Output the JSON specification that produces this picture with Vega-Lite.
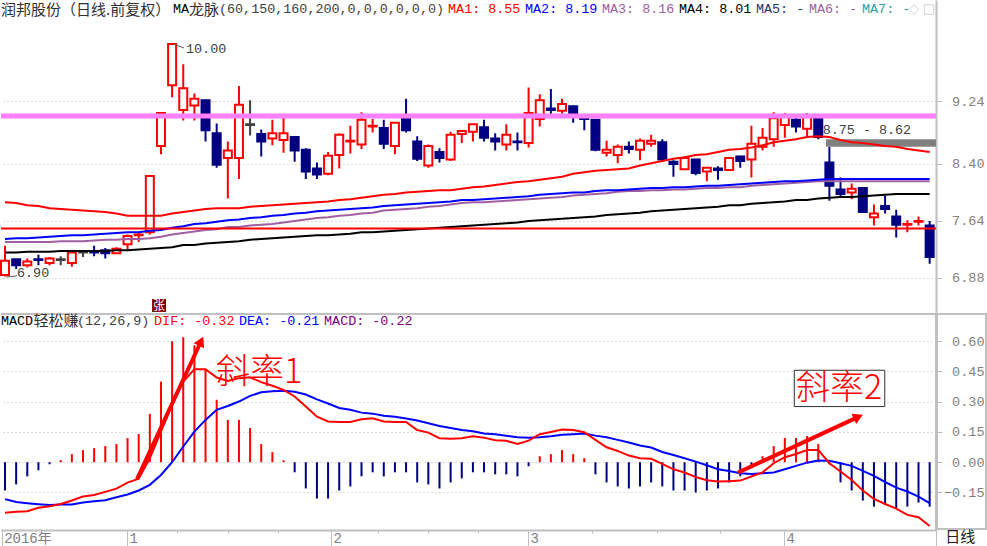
{
"$schema":"https://vega.github.io/schema/vega-lite/v6.json",
"padding":0,"spacing":0,"background":"#ffffff",
"config":{"view":{"stroke":null},"concat":{"spacing":0},"text":{"baseline":"middle","align":"left"}},
"datasets":{"days":[
{"i":0,"open":6.92,"close":7.11,"high":7.31,"low":6.90,"dir":"u","ma1":7.89,"ma2":7.40,"ma3":7.36,"ma4":7.22,"dif":-0.250,"dea":-0.183,"macd":-0.14},
{"i":1,"open":7.13,"close":7.05,"high":7.13,"low":7.00,"dir":"d","ma1":7.88,"ma2":7.41,"ma3":7.36,"ma4":7.22,"dif":-0.246,"dea":-0.197,"macd":-0.11},
{"i":2,"open":7.05,"close":7.10,"high":7.14,"low":7.02,"dir":"u","ma1":7.85,"ma2":7.41,"ma3":7.36,"ma4":7.23,"dif":-0.243,"dea":-0.203,"macd":-0.07},
{"i":3,"open":7.13,"close":7.12,"high":7.19,"low":7.05,"dir":"d","ma1":7.84,"ma2":7.42,"ma3":7.36,"ma4":7.23,"dif":-0.226,"dea":-0.208,"macd":-0.04},
{"i":4,"open":7.08,"close":7.14,"high":7.16,"low":7.05,"dir":"u","ma1":7.81,"ma2":7.43,"ma3":7.36,"ma4":7.23,"dif":-0.218,"dea":-0.212,"macd":-0.01},
{"i":5,"open":7.13,"close":7.12,"high":7.17,"low":7.05,"dir":"f","ma1":7.80,"ma2":7.44,"ma3":7.37,"ma4":7.24,"dif":-0.207,"dea":-0.210,"macd":0.01},
{"i":6,"open":7.08,"close":7.22,"high":7.22,"low":7.03,"dir":"u","ma1":7.79,"ma2":7.45,"ma3":7.37,"ma4":7.24,"dif":-0.190,"dea":-0.210,"macd":0.04},
{"i":7,"open":7.23,"close":7.22,"high":7.25,"low":7.16,"dir":"f","ma1":7.78,"ma2":7.45,"ma3":7.37,"ma4":7.24,"dif":-0.170,"dea":-0.200,"macd":0.06},
{"i":8,"open":7.23,"close":7.22,"high":7.31,"low":7.17,"dir":"d","ma1":7.77,"ma2":7.46,"ma3":7.38,"ma4":7.24,"dif":-0.162,"dea":-0.193,"macd":0.07},
{"i":9,"open":7.25,"close":7.21,"high":7.28,"low":7.14,"dir":"d","ma1":7.76,"ma2":7.47,"ma3":7.39,"ma4":7.24,"dif":-0.147,"dea":-0.188,"macd":0.08},
{"i":10,"open":7.21,"close":7.27,"high":7.29,"low":7.20,"dir":"u","ma1":7.74,"ma2":7.48,"ma3":7.39,"ma4":7.25,"dif":-0.131,"dea":-0.174,"macd":0.09},
{"i":11,"open":7.33,"close":7.44,"high":7.46,"low":7.26,"dir":"u","ma1":7.71,"ma2":7.49,"ma3":7.40,"ma4":7.25,"dif":-0.101,"dea":-0.160,"macd":0.12},
{"i":12,"open":7.45,"close":7.46,"high":7.48,"low":7.36,"dir":"u","ma1":7.71,"ma2":7.49,"ma3":7.40,"ma4":7.26,"dif":-0.081,"dea":-0.140,"macd":0.14},
{"i":13,"open":7.49,"close":8.24,"high":8.25,"low":7.46,"dir":"u","ma1":7.71,"ma2":7.51,"ma3":7.41,"ma4":7.27,"dif":0.020,"dea":-0.112,"macd":0.24},
{"i":14,"open":8.64,"close":9.08,"high":9.09,"low":8.53,"dir":"u","ma1":7.71,"ma2":7.52,"ma3":7.43,"ma4":7.28,"dif":0.152,"dea":-0.063,"macd":0.40},
{"i":15,"open":9.45,"close":10.00,"high":10.00,"low":9.29,"dir":"u","ma1":7.74,"ma2":7.55,"ma3":7.46,"ma4":7.29,"dif":0.284,"dea":0,"macd":0.60},
{"i":16,"open":9.12,"close":9.41,"high":9.73,"low":8.98,"dir":"u","ma1":7.76,"ma2":7.57,"ma3":7.48,"ma4":7.32,"dif":0.400,"dea":0.078,"macd":0.62},
{"i":17,"open":9.18,"close":9.27,"high":9.34,"low":8.98,"dir":"u","ma1":7.78,"ma2":7.60,"ma3":7.50,"ma4":7.32,"dif":0.461,"dea":0.152,"macd":0.58},
{"i":18,"open":9.25,"close":8.85,"high":9.26,"low":8.70,"dir":"d","ma1":7.80,"ma2":7.61,"ma3":7.52,"ma4":7.34,"dif":0.461,"dea":0.210,"macd":0.46},
{"i":19,"open":8.81,"close":8.39,"high":8.94,"low":8.35,"dir":"d","ma1":7.81,"ma2":7.63,"ma3":7.53,"ma4":7.35,"dif":0.420,"dea":0.260,"macd":0.31},
{"i":20,"open":8.48,"close":8.58,"high":8.70,"low":7.94,"dir":"u","ma1":7.81,"ma2":7.65,"ma3":7.56,"ma4":7.36,"dif":0.403,"dea":0.279,"macd":0.21},
{"i":21,"open":8.48,"close":9.19,"high":9.44,"low":8.20,"dir":"u","ma1":7.81,"ma2":7.66,"ma3":7.56,"ma4":7.37,"dif":0.417,"dea":0.301,"macd":0.21},
{"i":22,"open":8.93,"close":8.92,"high":9.25,"low":8.78,"dir":"f","ma1":7.83,"ma2":7.68,"ma3":7.58,"ma4":7.39,"dif":0.421,"dea":0.329,"macd":0.17},
{"i":23,"open":8.80,"close":8.70,"high":8.86,"low":8.50,"dir":"d","ma1":7.84,"ma2":7.69,"ma3":7.59,"ma4":7.40,"dif":0.397,"dea":0.347,"macd":0.09},
{"i":24,"open":8.74,"close":8.81,"high":8.99,"low":8.65,"dir":"u","ma1":7.85,"ma2":7.71,"ma3":7.60,"ma4":7.41,"dif":0.379,"dea":0.352,"macd":0.05},
{"i":25,"open":8.72,"close":8.81,"high":9.05,"low":8.55,"dir":"u","ma1":7.86,"ma2":7.72,"ma3":7.62,"ma4":7.42,"dif":0.359,"dea":0.354,"macd":0.01},
{"i":26,"open":8.76,"close":8.58,"high":8.76,"low":8.43,"dir":"d","ma1":7.87,"ma2":7.74,"ma3":7.64,"ma4":7.43,"dif":0.326,"dea":0.349,"macd":-0.05},
{"i":27,"open":8.59,"close":8.30,"high":8.61,"low":8.20,"dir":"d","ma1":7.88,"ma2":7.75,"ma3":7.66,"ma4":7.44,"dif":0.276,"dea":0.336,"macd":-0.13},
{"i":28,"open":8.34,"close":8.26,"high":8.42,"low":8.20,"dir":"d","ma1":7.89,"ma2":7.77,"ma3":7.68,"ma4":7.45,"dif":0.226,"dea":0.312,"macd":-0.18},
{"i":29,"open":8.27,"close":8.51,"high":8.56,"low":8.25,"dir":"u","ma1":7.90,"ma2":7.78,"ma3":7.69,"ma4":7.45,"dif":0.202,"dea":0.291,"macd":-0.18},
{"i":30,"open":8.52,"close":8.79,"high":8.81,"low":8.34,"dir":"u","ma1":7.92,"ma2":7.79,"ma3":7.71,"ma4":7.46,"dif":0.200,"dea":0.269,"macd":-0.14},
{"i":31,"open":8.70,"close":8.71,"high":8.91,"low":8.54,"dir":"u","ma1":7.93,"ma2":7.80,"ma3":7.72,"ma4":7.47,"dif":0.200,"dea":0.260,"macd":-0.12},
{"i":32,"open":8.66,"close":8.99,"high":9.09,"low":8.60,"dir":"u","ma1":7.95,"ma2":7.81,"ma3":7.74,"ma4":7.49,"dif":0.213,"dea":0.246,"macd":-0.07},
{"i":33,"open":8.90,"close":8.91,"high":9.00,"low":8.82,"dir":"u","ma1":7.97,"ma2":7.82,"ma3":7.75,"ma4":7.49,"dif":0.218,"dea":0.241,"macd":-0.05},
{"i":34,"open":8.88,"close":8.67,"high":8.99,"low":8.60,"dir":"d","ma1":7.99,"ma2":7.84,"ma3":7.78,"ma4":7.50,"dif":0.202,"dea":0.231,"macd":-0.07},
{"i":35,"open":8.64,"close":8.95,"high":8.95,"low":8.53,"dir":"u","ma1":8.00,"ma2":7.85,"ma3":7.79,"ma4":7.51,"dif":0.200,"dea":0.226,"macd":-0.05},
{"i":36,"open":9.02,"close":8.85,"high":9.27,"low":8.82,"dir":"d","ma1":8.02,"ma2":7.86,"ma3":7.80,"ma4":7.52,"dif":0.200,"dea":0.217,"macd":-0.05},
{"i":37,"open":8.70,"close":8.47,"high":8.77,"low":8.44,"dir":"d","ma1":8.03,"ma2":7.87,"ma3":7.81,"ma4":7.53,"dif":0.160,"dea":0.207,"macd":-0.10},
{"i":38,"open":8.38,"close":8.64,"high":8.66,"low":8.35,"dir":"u","ma1":8.04,"ma2":7.88,"ma3":7.83,"ma4":7.54,"dif":0.147,"dea":0.193,"macd":-0.11},
{"i":39,"open":8.56,"close":8.48,"high":8.61,"low":8.42,"dir":"d","ma1":8.05,"ma2":7.89,"ma3":7.84,"ma4":7.55,"dif":0.119,"dea":0.180,"macd":-0.13},
{"i":40,"open":8.46,"close":8.79,"high":8.83,"low":8.44,"dir":"u","ma1":8.05,"ma2":7.90,"ma3":7.86,"ma4":7.56,"dif":0.117,"dea":0.170,"macd":-0.10},
{"i":41,"open":8.80,"close":8.84,"high":8.84,"low":8.68,"dir":"u","ma1":8.07,"ma2":7.92,"ma3":7.88,"ma4":7.57,"dif":0.119,"dea":0.160,"macd":-0.08},
{"i":42,"open":8.83,"close":8.93,"high":8.93,"low":8.70,"dir":"u","ma1":8.09,"ma2":7.92,"ma3":7.89,"ma4":7.58,"dif":0.129,"dea":0.154,"macd":-0.05},
{"i":43,"open":8.89,"close":8.75,"high":8.99,"low":8.70,"dir":"d","ma1":8.10,"ma2":7.93,"ma3":7.89,"ma4":7.59,"dif":0.122,"dea":0.142,"macd":-0.05},
{"i":44,"open":8.74,"close":8.70,"high":8.81,"low":8.58,"dir":"d","ma1":8.12,"ma2":7.94,"ma3":7.90,"ma4":7.60,"dif":0.109,"dea":0.139,"macd":-0.06},
{"i":45,"open":8.66,"close":8.79,"high":8.93,"low":8.58,"dir":"u","ma1":8.14,"ma2":7.95,"ma3":7.91,"ma4":7.61,"dif":0.106,"dea":0.131,"macd":-0.06},
{"i":46,"open":8.70,"close":8.69,"high":8.82,"low":8.58,"dir":"d","ma1":8.16,"ma2":7.96,"ma3":7.92,"ma4":7.62,"dif":0.091,"dea":0.124,"macd":-0.07},
{"i":47,"open":8.68,"close":9.08,"high":9.42,"low":8.62,"dir":"u","ma1":8.17,"ma2":7.97,"ma3":7.93,"ma4":7.64,"dif":0.107,"dea":0.122,"macd":-0.02},
{"i":48,"open":9.00,"close":9.25,"high":9.33,"low":8.90,"dir":"u","ma1":8.19,"ma2":7.99,"ma3":7.94,"ma4":7.65,"dif":0.139,"dea":0.124,"macd":0.03},
{"i":49,"open":9.14,"close":9.12,"high":9.40,"low":9.07,"dir":"d","ma1":8.21,"ma2":8.00,"ma3":7.95,"ma4":7.66,"dif":0.150,"dea":0.129,"macd":0.04},
{"i":50,"open":9.11,"close":9.20,"high":9.27,"low":9.07,"dir":"u","ma1":8.23,"ma2":8.01,"ma3":7.96,"ma4":7.67,"dif":0.162,"dea":0.136,"macd":0.06},
{"i":51,"open":9.17,"close":9.07,"high":9.18,"low":8.95,"dir":"d","ma1":8.27,"ma2":8.02,"ma3":7.98,"ma4":7.68,"dif":0.160,"dea":0.139,"macd":0.04},
{"i":52,"open":9.01,"close":9.00,"high":9.05,"low":8.85,"dir":"d","ma1":8.29,"ma2":8.02,"ma3":7.99,"ma4":7.69,"dif":0.149,"dea":0.142,"macd":0.02},
{"i":53,"open":8.99,"close":8.59,"high":8.99,"low":8.57,"dir":"d","ma1":8.31,"ma2":8.04,"ma3":8.00,"ma4":7.70,"dif":0.111,"dea":0.132,"macd":-0.06},
{"i":54,"open":8.55,"close":8.59,"high":8.71,"low":8.50,"dir":"u","ma1":8.32,"ma2":8.05,"ma3":8.01,"ma4":7.72,"dif":0.074,"dea":0.124,"macd":-0.10},
{"i":55,"open":8.52,"close":8.63,"high":8.66,"low":8.41,"dir":"u","ma1":8.33,"ma2":8.05,"ma3":8.03,"ma4":7.73,"dif":0.056,"dea":0.111,"macd":-0.12},
{"i":56,"open":8.63,"close":8.60,"high":8.70,"low":8.54,"dir":"d","ma1":8.34,"ma2":8.06,"ma3":8.04,"ma4":7.74,"dif":0.033,"dea":0.098,"macd":-0.13},
{"i":57,"open":8.59,"close":8.71,"high":8.74,"low":8.45,"dir":"u","ma1":8.38,"ma2":8.07,"ma3":8.04,"ma4":7.75,"dif":0.020,"dea":0.083,"macd":-0.12},
{"i":58,"open":8.67,"close":8.71,"high":8.79,"low":8.63,"dir":"u","ma1":8.41,"ma2":8.08,"ma3":8.05,"ma4":7.77,"dif":0.017,"dea":0.073,"macd":-0.10},
{"i":59,"open":8.69,"close":8.46,"high":8.73,"low":8.45,"dir":"d","ma1":8.44,"ma2":8.08,"ma3":8.05,"ma4":7.78,"dif":-0.008,"dea":0.051,"macd":-0.12},
{"i":60,"open":8.43,"close":8.40,"high":8.45,"low":8.23,"dir":"d","ma1":8.47,"ma2":8.09,"ma3":8.06,"ma4":7.79,"dif":-0.035,"dea":0.036,"macd":-0.14},
{"i":61,"open":8.33,"close":8.48,"high":8.50,"low":8.33,"dir":"u","ma1":8.49,"ma2":8.09,"ma3":8.06,"ma4":7.80,"dif":-0.051,"dea":0.020,"macd":-0.14},
{"i":62,"open":8.46,"close":8.28,"high":8.46,"low":8.25,"dir":"d","ma1":8.52,"ma2":8.10,"ma3":8.07,"ma4":7.81,"dif":-0.073,"dea":0.003,"macd":-0.15},
{"i":63,"open":8.30,"close":8.35,"high":8.35,"low":8.17,"dir":"u","ma1":8.53,"ma2":8.11,"ma3":8.08,"ma4":7.82,"dif":-0.089,"dea":-0.015,"macd":-0.14},
{"i":64,"open":8.34,"close":8.32,"high":8.37,"low":8.19,"dir":"d","ma1":8.56,"ma2":8.11,"ma3":8.08,"ma4":7.83,"dif":-0.096,"dea":-0.035,"macd":-0.13},
{"i":65,"open":8.32,"close":8.48,"high":8.48,"low":8.31,"dir":"u","ma1":8.59,"ma2":8.12,"ma3":8.09,"ma4":7.85,"dif":-0.094,"dea":-0.043,"macd":-0.10},
{"i":66,"open":8.50,"close":8.44,"high":8.51,"low":8.35,"dir":"d","ma1":8.60,"ma2":8.13,"ma3":8.09,"ma4":7.85,"dif":-0.091,"dea":-0.055,"macd":-0.07},
{"i":67,"open":8.46,"close":8.67,"high":8.91,"low":8.22,"dir":"u","ma1":8.62,"ma2":8.14,"ma3":8.11,"ma4":7.87,"dif":-0.071,"dea":-0.058,"macd":-0.03},
{"i":68,"open":8.63,"close":8.75,"high":8.88,"low":8.58,"dir":"u","ma1":8.65,"ma2":8.15,"ma3":8.12,"ma4":7.88,"dif":-0.050,"dea":-0.055,"macd":0.03},
{"i":69,"open":8.73,"close":9.01,"high":9.09,"low":8.63,"dir":"u","ma1":8.69,"ma2":8.16,"ma3":8.13,"ma4":7.89,"dif":-0.005,"dea":-0.051,"macd":0.08},
{"i":70,"open":8.92,"close":9.03,"high":9.08,"low":8.75,"dir":"u","ma1":8.71,"ma2":8.17,"ma3":8.14,"ma4":7.90,"dif":0.025,"dea":-0.035,"macd":0.12},
{"i":71,"open":8.99,"close":8.90,"high":9.02,"low":8.82,"dir":"d","ma1":8.73,"ma2":8.17,"ma3":8.15,"ma4":7.92,"dif":0.041,"dea":-0.018,"macd":0.12},
{"i":72,"open":8.87,"close":9.03,"high":9.08,"low":8.76,"dir":"u","ma1":8.76,"ma2":8.18,"ma3":8.16,"ma4":7.92,"dif":0.061,"dea":-0.002,"macd":0.13},
{"i":73,"open":9.00,"close":8.76,"high":9.02,"low":8.73,"dir":"d","ma1":8.77,"ma2":8.19,"ma3":8.17,"ma4":7.94,"dif":0.061,"dea":0.008,"macd":0.09},
{"i":74,"open":8.42,"close":8.11,"high":8.63,"low":7.91,"dir":"d","ma1":8.76,"ma2":8.20,"ma3":8.17,"ma4":7.95,"dif":-0.005,"dea":0.007,"macd":-0.01},
{"i":75,"open":8.06,"close":8.00,"high":8.22,"low":7.96,"dir":"d","ma1":8.72,"ma2":8.20,"ma3":8.17,"ma4":7.96,"dif":-0.046,"dea":-0.005,"macd":-0.10},
{"i":76,"open":8.02,"close":8.07,"high":8.14,"low":7.93,"dir":"u","ma1":8.69,"ma2":8.20,"ma3":8.17,"ma4":7.96,"dif":-0.088,"dea":-0.018,"macd":-0.14},
{"i":77,"open":8.08,"close":7.76,"high":8.08,"low":7.75,"dir":"d","ma1":8.68,"ma2":8.20,"ma3":8.17,"ma4":7.97,"dif":-0.140,"dea":-0.043,"macd":-0.19},
{"i":78,"open":7.69,"close":7.74,"high":7.86,"low":7.58,"dir":"u","ma1":8.66,"ma2":8.20,"ma3":8.17,"ma4":7.98,"dif":-0.182,"dea":-0.068,"macd":-0.22},
{"i":79,"open":7.84,"close":7.80,"high":7.98,"low":7.74,"dir":"d","ma1":8.64,"ma2":8.20,"ma3":8.17,"ma4":7.99,"dif":-0.207,"dea":-0.098,"macd":-0.21},
{"i":80,"open":7.70,"close":7.59,"high":7.79,"low":7.42,"dir":"d","ma1":8.63,"ma2":8.20,"ma3":8.17,"ma4":8.00,"dif":-0.230,"dea":-0.126,"macd":-0.23},
{"i":81,"open":7.59,"close":7.60,"high":7.65,"low":7.49,"dir":"u","ma1":8.60,"ma2":8.20,"ma3":8.17,"ma4":8.00,"dif":-0.261,"dea":-0.145,"macd":-0.22},
{"i":82,"open":7.63,"close":7.64,"high":7.70,"low":7.58,"dir":"u","ma1":8.58,"ma2":8.20,"ma3":8.17,"ma4":8.00,"dif":-0.273,"dea":-0.170,"macd":-0.20},
{"i":83,"open":7.58,"close":7.16,"high":7.64,"low":7.07,"dir":"d","ma1":8.56,"ma2":8.20,"ma3":8.17,"ma4":8.00,"dif":-0.316,"dea":-0.203,"macd":-0.22}
]},
"vconcat":[
{"width":935,"height":313,
 "encoding":{"x":{"field":"i","type":"quantitative","axis":null,"scale":{"domain":[-0.36,83.57],"nice":false,"zero":false,"padding":0}}},
 "layer":[
 {"data":{"name":"days"},"mark":{"type":"rule","strokeWidth":2},
  "encoding":{"y":{"field":"low","type":"quantitative","scale":{"domain":[6.413,10.587],"nice":false,"zero":false},
     "axis":{"orient":"right","title":null,"values":[6.88,7.64,8.40,9.24],"format":".2f","grid":true,"gridColor":"#b8b8b8","gridDash":[1,3],"domainColor":"#c0c0c0","domainWidth":2,"tickColor":"#c0c0c0","tickSize":6,"labelColor":"#808080","labelFont":"Liberation Mono","labelFontSize":13.5,"labelAlign":"right","labelPadding":42}},
    "y2":{"field":"high"},
    "stroke":{"field":"dir","type":"nominal","legend":null,"scale":{"domain":["u","d","f"],"range":["#ff0000","#000080","#404040"]}}}},
 {"data":{"name":"days"},"mark":{"type":"bar","size":8,"strokeWidth":2},
  "encoding":{"y":{"field":"open","type":"quantitative"},"y2":{"field":"close"},
    "stroke":{"field":"dir","type":"nominal","legend":null},
    "fill":{"field":"dir","type":"nominal","legend":null,"scale":{"domain":["u","d","f"],"range":["#ffffff","#000080","#404040"]}}}},
 {"data":{"values":[{"i":73.7,"i2":83.57,"v":8.63,"v2":8.73}]},"mark":{"type":"rect","color":"#808080"},
  "encoding":{"x2":{"field":"i2"},"y":{"field":"v","type":"quantitative"},"y2":{"field":"v2"}}},
 {"data":{"name":"days"},"mark":{"type":"line","color":"#000000","strokeWidth":2},"encoding":{"y":{"field":"ma4","type":"quantitative"}}},
 {"data":{"name":"days"},"mark":{"type":"line","color":"#a060a0","strokeWidth":2},"encoding":{"y":{"field":"ma3","type":"quantitative"}}},
 {"data":{"name":"days"},"mark":{"type":"line","color":"#0000ff","strokeWidth":2},"encoding":{"y":{"field":"ma2","type":"quantitative"}}},
 {"data":{"name":"days"},"mark":{"type":"line","color":"#ff0000","strokeWidth":2},"encoding":{"y":{"field":"ma1","type":"quantitative"}}},
 {"data":{"values":[{"i":-0.36,"i2":83.57,"v":9.007,"v2":9.073}]},"mark":{"type":"rect","color":"#ff80ff"},
  "encoding":{"x2":{"field":"i2"},"y":{"field":"v","type":"quantitative"},"y2":{"field":"v2"}}},
 {"data":{"values":[{"i":-0.36,"i2":83.57,"v":7.527,"v2":7.553}]},"mark":{"type":"rect","color":"#ff0000"},
  "encoding":{"x2":{"field":"i2"},"y":{"field":"v","type":"quantitative"},"y2":{"field":"v2"}}},
 {"data":{"values":[{"i":15.08,"i2":16.07,"v":10.0,"v2":9.947},{"i":0.09,"i2":1.08,"v":6.893,"v2":6.907}]},"mark":{"type":"rule","color":"#606060","strokeWidth":1},
  "encoding":{"x2":{"field":"i2"},"y":{"field":"v","type":"quantitative"},"y2":{"field":"v2"}}},
 {"data":{"values":[{"i":13.2,"i2":14.45,"v":6.427,"v2":6.6}]},"mark":{"type":"rect","color":"#800000"},
  "encoding":{"x2":{"field":"i2"},"y":{"field":"v","type":"quantitative"},"y2":{"field":"v2"}}},
 {"data":{"values":[{"t":"张","i":13.82,"v":6.513}]},"mark":{"type":"text","align":"center","font":"Noto Sans CJK SC","fontSize":12,"color":"#ffffff"},
  "encoding":{"y":{"field":"v","type":"quantitative"},"text":{"field":"t"}}},
 {"data":{"values":[
   {"t":"MA","i":15.08,"v":10.47,"s":"black"},
   {"t":"(60,150,160,200,0,0,0,0,0,0)","i":19.21,"v":10.47,"s":"ink"},
   {"t":"MA1: 8.55","i":39.77,"v":10.47,"s":"red"},
   {"t":"MA2: 8.19","i":46.68,"v":10.47,"s":"blue"},
   {"t":"MA3: 8.16","i":53.59,"v":10.47,"s":"purple"},
   {"t":"MA4: 8.01","i":60.5,"v":10.47,"s":"black"},
   {"t":"MA5: -","i":67.41,"v":10.47,"s":"navy"},
   {"t":"MA6: -","i":72.17,"v":10.47,"s":"purple"},
   {"t":"MA7: -","i":76.93,"v":10.47,"s":"teal"},
   {"t":"10.00","i":16.25,"v":9.933,"s":"ink"},
   {"t":"6.90","i":1.08,"v":6.947,"s":"ink"},
   {"t":"8.75 - 8.62","i":73.4,"v":8.853,"s":"ink"}
  ]},"mark":{"type":"text","font":"Liberation Mono","fontSize":13.4},
  "encoding":{"y":{"field":"v","type":"quantitative"},"text":{"field":"t"},
   "color":{"field":"s","type":"nominal","legend":null,"scale":{"domain":["ink","red","blue","purple","black","navy","teal","deep"],"range":["#404040","#ff0000","#0000ff","#a060a0","#000000","#1a3a6a","#30a0a0","#800080"]}}}},
 {"data":{"values":[{"t":"润邦股份（日线.前复权）","i":-0.36,"v":10.45},{"t":"龙脉","i":16.52,"v":10.45}]},"mark":{"type":"text","font":"Noto Sans CJK SC","fontSize":15,"color":"#303030"},
  "encoding":{"y":{"field":"v","type":"quantitative"},"text":{"field":"t"}}},
 {"data":{"values":[{"i":81.6,"v":10.46}]},"mark":{"type":"point","shape":"diamond","size":90,"color":"#c0c0c0","strokeWidth":1},
  "encoding":{"y":{"field":"v","type":"quantitative"}}},
 {"data":{"values":[{"i":82.95,"v":10.46}]},"mark":{"type":"point","shape":"square","size":90,"color":"#c0c0c0","strokeWidth":1},
  "encoding":{"y":{"field":"v","type":"quantitative"}}}
 ]},
{"width":935,"height":217,
 "encoding":{"x":{"field":"i","type":"quantitative","axis":null,"scale":{"domain":[-0.36,83.57],"nice":false,"zero":false,"padding":0}}},
 "resolve":{"axis":{"x":"independent"}},
 "layer":[
 {"data":{"name":"days"},"mark":{"type":"rule","strokeWidth":2},
  "encoding":{
   "x":{"field":"i","type":"quantitative","scale":{"domain":[-0.36,83.57],"nice":false,"zero":false,"padding":0},
     "axis":{"orient":"bottom","title":null,"grid":false,"values":[-0.3,10.95,29.26,46.95,69.93,83.57],
      "labelExpr":"datum.value<0?'2016年':datum.value<11?'1':datum.value<30?'2':datum.value<47?'3':datum.value<70?'4':''",
      "tickSize":16,"tickColor":"#c0c0c0","domainColor":"#c0c0c0","domainWidth":2,"labelAlign":"left","labelBaseline":"top","labelPadding":-15,"labelOffset":2,"labelColor":"#808080","labelFont":"Liberation Mono, Noto Sans CJK SC","labelFontSize":14,"labelFlush":false,"labelOverlap":false,"labelBound":false}},
   "y":{"field":"macd","type":"quantitative","scale":{"domain":[-0.336,0.74],"nice":false,"zero":false},
     "axis":{"orient":"right","title":null,"values":[-0.15,0,0.15,0.3,0.45,0.6],"format":".2f","grid":true,"gridColor":"#b8b8b8","gridDash":[1,3],"domainColor":"#c0c0c0","domainWidth":3,"tickColor":"#c0c0c0","tickSize":6,"labelColor":"#808080","labelFont":"Liberation Mono","labelFontSize":13.5,"labelAlign":"right","labelPadding":42}},
   "y2":{"datum":0},
   "stroke":{"condition":{"test":"datum.macd>0","value":"#ff0000"},"value":"#000080"}}},
 {"data":{"name":"days"},"mark":{"type":"line","color":"#0000ff","strokeWidth":2},
  "encoding":{
   "x":{"field":"i","type":"quantitative","axis":{"orient":"bottom","title":null,"grid":false,"domain":false,"labels":false,"tickSize":3,"tickColor":"#c0c0c0","values":[15.44,20.02,24.51,33.48,37.97,42.46,52.69,58.53,64.18]}},
   "y":{"field":"dea","type":"quantitative"}}},
 {"data":{"name":"days"},"mark":{"type":"line","color":"#ff0000","strokeWidth":2},"encoding":{"y":{"field":"dif","type":"quantitative"}}},
 {"data":{"values":[{"i":-0.36,"i2":88.06,"v":0.73,"v2":0.74},{"i":83.57,"i2":88.06,"v":-0.336,"v2":-0.326}]},"mark":{"type":"rect","color":"#c0c0c0"},
  "encoding":{"x2":{"field":"i2"},"y":{"field":"v","type":"quantitative"},"y2":{"field":"v2"}}},
 {"data":{"values":[{"i":87.97,"i2":88.15,"v":0.74,"v2":-0.336}]},"mark":{"type":"rect","color":"#c0c0c0"},
  "encoding":{"x2":{"field":"i2"},"y":{"field":"v","type":"quantitative"},"y2":{"field":"v2"}}},
 {"data":{"values":[{"i":11.85,"i2":17.6,"v":-0.083,"v2":0.6},{"i":65.8,"i2":76.6,"v":-0.051,"v2":0.225}]},"mark":{"type":"rule","color":"#ff0000","strokeWidth":4},
  "encoding":{"x2":{"field":"i2"},"y":{"field":"v","type":"quantitative"},"y2":{"field":"v2"}}},
 {"data":{"values":[{"i":17.6,"v":0.6}]},"mark":{"type":"point","shape":"triangle-up","filled":true,"size":130,"angle":25.6,"color":"#ff0000","opacity":1},
  "encoding":{"y":{"field":"v","type":"quantitative"}}},
 {"data":{"values":[{"i":76.6,"v":0.225}]},"mark":{"type":"point","shape":"triangle-up","filled":true,"size":130,"angle":65,"color":"#ff0000","opacity":1},
  "encoding":{"y":{"field":"v","type":"quantitative"}}},
 {"data":{"values":[{"i":70.85,"i2":78.97,"v":0.276,"v2":0.456}]},"mark":{"type":"rect","fill":"#ffffff","stroke":"#303030","strokeWidth":1},
  "encoding":{"x2":{"field":"i2"},"y":{"field":"v","type":"quantitative"},"y2":{"field":"v2"}}},
 {"data":{"values":[{"t":"斜率1","i":18.94,"v":0.443},{"t":"斜率2","i":71.0,"v":0.364}]},"mark":{"type":"text","font":"Noto Sans CJK SC","fontSize":34,"color":"#ff0000","fontWeight":300},
  "encoding":{"y":{"field":"v","type":"quantitative"},"text":{"field":"t"}}},
 {"data":{"values":[
   {"t":"MACD","i":-0.36,"v":0.70,"s":"black"},
   {"t":"(12,26,9)","i":6.46,"v":0.70,"s":"ink"},
   {"t":"DIF: -0.32","i":13.38,"v":0.70,"s":"red"},
   {"t":"DEA: -0.21","i":21.0,"v":0.70,"s":"blue"},
   {"t":"MACD: -0.22","i":28.64,"v":0.70,"s":"deep"}
  ]},"mark":{"type":"text","font":"Liberation Mono","fontSize":13.4},
  "encoding":{"y":{"field":"v","type":"quantitative"},"text":{"field":"t"},
   "color":{"field":"s","type":"nominal","legend":null,"scale":{"domain":["ink","red","blue","purple","black","navy","teal","deep"],"range":["#404040","#ff0000","#0000ff","#a060a0","#000000","#1a3a6a","#30a0a0","#800080"]}}}},
 {"data":{"values":[{"t":"轻松赚","i":2.55,"v":0.70}]},"mark":{"type":"text","font":"Noto Sans CJK SC","fontSize":15,"color":"#303030"},
  "encoding":{"y":{"field":"v","type":"quantitative"},"text":{"field":"t"}}},
 {"data":{"values":[{"t":"日线","i":84.4,"v":-0.372}]},"mark":{"type":"text","font":"Noto Sans CJK SC","fontSize":15,"color":"#202020"},
  "encoding":{"y":{"field":"v","type":"quantitative"},"text":{"field":"t"}}}
 ]}
]}
